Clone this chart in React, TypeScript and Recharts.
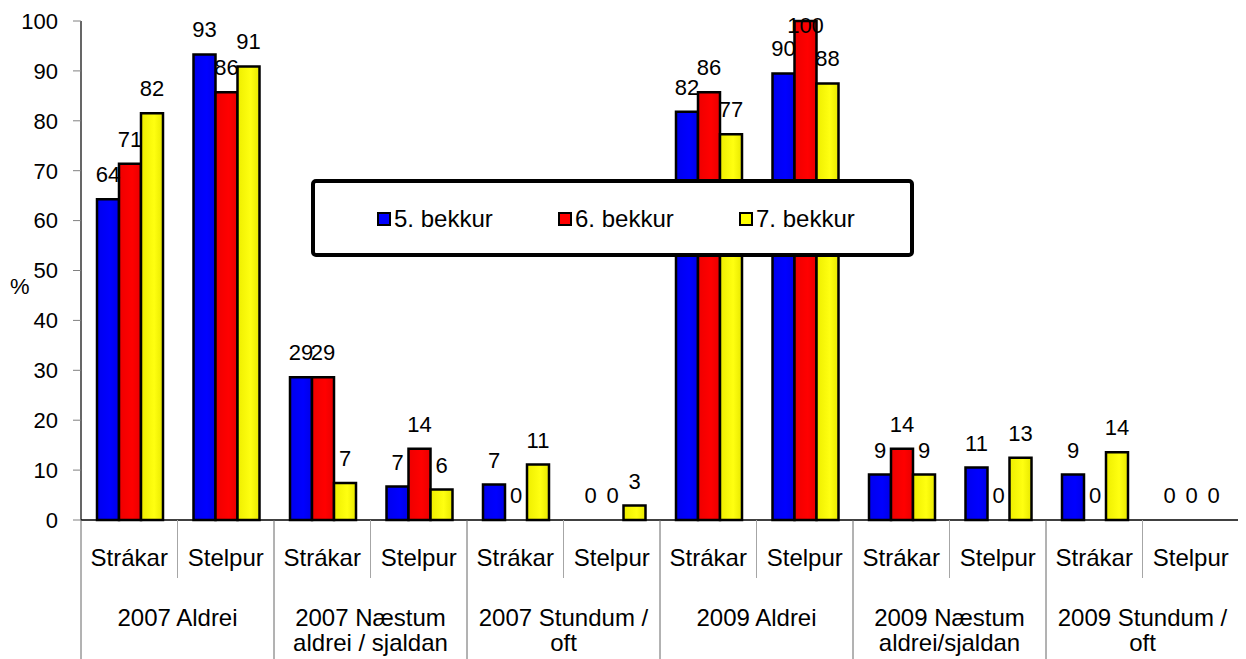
import React from "react";
import { BarChart, Bar, XAxis, YAxis, Legend, LabelList, Rectangle } from "recharts";

const subCategories = [
  "Strákar", "Stelpur", "Strákar", "Stelpur", "Strákar", "Stelpur",
  "Strákar", "Stelpur", "Strákar", "Stelpur", "Strákar", "Stelpur",
];
const groupLabels = [
  ["2007 Aldrei"],
  ["2007 Næstum", "aldrei / sjaldan"],
  ["2007 Stundum /", "oft"],
  ["2009 Aldrei"],
  ["2009 Næstum", "aldrei/sjaldan"],
  ["2009 Stundum /", "oft"],
];
const grade5 = [64.3, 93.3, 28.6, 6.7, 7.1, 0, 81.8, 89.5, 9.1, 10.5, 9.1, 0];
const grade6 = [71.4, 85.7, 28.6, 14.3, 0, 0, 85.7, 100, 14.3, 0, 0, 0];
const grade7 = [81.5, 90.9, 7.4, 6.1, 11.1, 2.9, 77.3, 87.5, 9.1, 12.5, 13.6, 0];
const seriesNames = ["5. bekkur", "6. bekkur", "7. bekkur"];
const yTicks = [0, 10, 20, 30, 40, 50, 60, 70, 80, 90, 100];

const data = subCategories.map((c, i) => ({
  key: `${i}-${c}`,
  g5: grade5[i],
  g6: grade6[i],
  g7: grade7[i],
}));

const FONT = "'Liberation Sans', Arial, sans-serif";
const CHART_W = 1238;
const CHART_H = 651;
const MARGIN = { top: 13, right: 7, left: 0, bottom: 0 };
const YAXIS_W = 73;
const XAXIS_H = 139;
const PLOT_W = CHART_W - MARGIN.left - MARGIN.right - YAXIS_W;
const BAND = PLOT_W / subCategories.length;
const LABEL_MIN_Y = 25;
const TEXT_SIZE = 24;
const NUM_SIZE = 22;

const XTick = (props: any) => {
  const { x, y, index } = props;
  const half = BAND / 2;
  const first = index % 2 === 0;
  const g = groupLabels[Math.floor(index / 2)];
  return (
    <g>
      {first ? (
        <line x1={x - half} x2={x - half} y1={y} y2={y + XAXIS_H} stroke="#666" strokeWidth={1} />
      ) : (
        <line x1={x - half} x2={x - half} y1={y} y2={y + 58} stroke="#a6a6a6" strokeWidth={1} />
      )}
      {index === subCategories.length - 1 && (
        <line x1={x + half} x2={x + half} y1={y} y2={y + XAXIS_H} stroke="#666" strokeWidth={1} />
      )}
      <text x={x} y={y + 46} textAnchor="middle" fontSize={TEXT_SIZE} fontFamily={FONT} fill="#000">
        {subCategories[index]}
      </text>
      {first &&
        g.map((line, li) => (
          <text
            key={li}
            x={x + half}
            y={y + 106 + li * 25}
            textAnchor="middle"
            fontSize={TEXT_SIZE}
            fontFamily={FONT}
            fill="#000"
          >
            {line}
          </text>
        ))}
    </g>
  );
};

const renderLabel = (props: any) => {
  const { x, y, width, value } = props;
  return (
    <text
      x={Number(x) + Number(width) / 2}
      y={Math.max(Number(y) - 17, LABEL_MIN_Y)}
      textAnchor="middle"
      fontSize={NUM_SIZE}
      fontFamily={FONT}
      fill="#000"
    >
      {Math.round(Number(value))}
    </text>
  );
};

const barShape = (props: any) =>
  Math.abs(Number(props.height)) < 0.5 ? <g /> : <Rectangle {...props} />;

const zeroMinSize = (value: any) => (Number(value) === 0 ? 0.01 : 0);

const legendColors = ["#0000ff", "#ff0000", "#ffff00"];
const legendIconX = [66, 247, 428];

const LegendBox = () => (
  <svg width={603} height={78} style={{ display: "block" }}>
    <rect x={2} y={2} width={599} height={74} rx={3} fill="#fff" stroke="#000" strokeWidth={4} />
    {seriesNames.map((n, i) => (
      <g key={n}>
        <rect
          x={legendIconX[i] + 1}
          y={34}
          width={12}
          height={12}
          fill={legendColors[i]}
          stroke="#000"
          strokeWidth={2}
        />
        <text x={legendIconX[i] + 17} y={48} fontSize={TEXT_SIZE} fontFamily={FONT} fill="#000">
          {n}
        </text>
      </g>
    ))}
  </svg>
);

export default function App() {
  return (
    <div style={{ width: CHART_W, height: CHART_H, background: "#fff" }}>
      <BarChart
        width={CHART_W}
        height={CHART_H}
        data={data}
        margin={MARGIN}
        barCategoryGap={16}
        barGap={0}
      >
        <defs>
          <linearGradient id="gBlue" x1="0" y1="0" x2="1" y2="0">
            <stop offset="0%" stopColor="#0000ee" />
            <stop offset="60%" stopColor="#0000ff" />
            <stop offset="100%" stopColor="#0000e6" />
          </linearGradient>
          <linearGradient id="gRed" x1="0" y1="0" x2="1" y2="0">
            <stop offset="0%" stopColor="#ee0000" />
            <stop offset="60%" stopColor="#ff0000" />
            <stop offset="100%" stopColor="#e80000" />
          </linearGradient>
          <linearGradient id="gYellow" x1="0" y1="0" x2="1" y2="0">
            <stop offset="0%" stopColor="#eeee00" />
            <stop offset="60%" stopColor="#ffff10" />
            <stop offset="100%" stopColor="#e8e800" />
          </linearGradient>
        </defs>
        <XAxis
          dataKey="key"
          height={XAXIS_H}
          interval={0}
          tickLine={false}
          tickSize={0}
          tickMargin={0}
          axisLine={{ stroke: "#000", strokeWidth: 1.5 }}
          tick={XTick}
        />
        <YAxis
          width={YAXIS_W}
          domain={[0, 100]}
          ticks={yTicks}
          interval={0}
          tickSize={8}
          tickMargin={15}
          tickLine={{ stroke: "#808080" }}
          axisLine={{ stroke: "#000", strokeWidth: 1.2 }}
          tick={{ fontSize: NUM_SIZE, fontFamily: FONT, fill: "#000" }}
          label={{
            value: "%",
            position: "insideLeft",
            offset: 2,
            dy: 16,
            fontSize: NUM_SIZE,
            fontFamily: FONT,
            fill: "#000",
          }}
        />
        <Legend
          verticalAlign="middle"
          align="center"
          layout="horizontal"
          wrapperStyle={{ left: 303, top: 171, width: 603, height: 78 }}
          content={() => <LegendBox />}
        />
        <Bar dataKey="g5" name={seriesNames[0]} fill="url(#gBlue)" stroke="#000" strokeWidth={2.5} minPointSize={zeroMinSize} shape={barShape} isAnimationActive={false}>
          <LabelList dataKey="g5" content={renderLabel} />
        </Bar>
        <Bar dataKey="g6" name={seriesNames[1]} fill="url(#gRed)" stroke="#000" strokeWidth={2.5} minPointSize={zeroMinSize} shape={barShape} isAnimationActive={false}>
          <LabelList dataKey="g6" content={renderLabel} />
        </Bar>
        <Bar dataKey="g7" name={seriesNames[2]} fill="url(#gYellow)" stroke="#000" strokeWidth={2.5} minPointSize={zeroMinSize} shape={barShape} isAnimationActive={false}>
          <LabelList dataKey="g7" content={renderLabel} />
        </Bar>
      </BarChart>
    </div>
  );
}
